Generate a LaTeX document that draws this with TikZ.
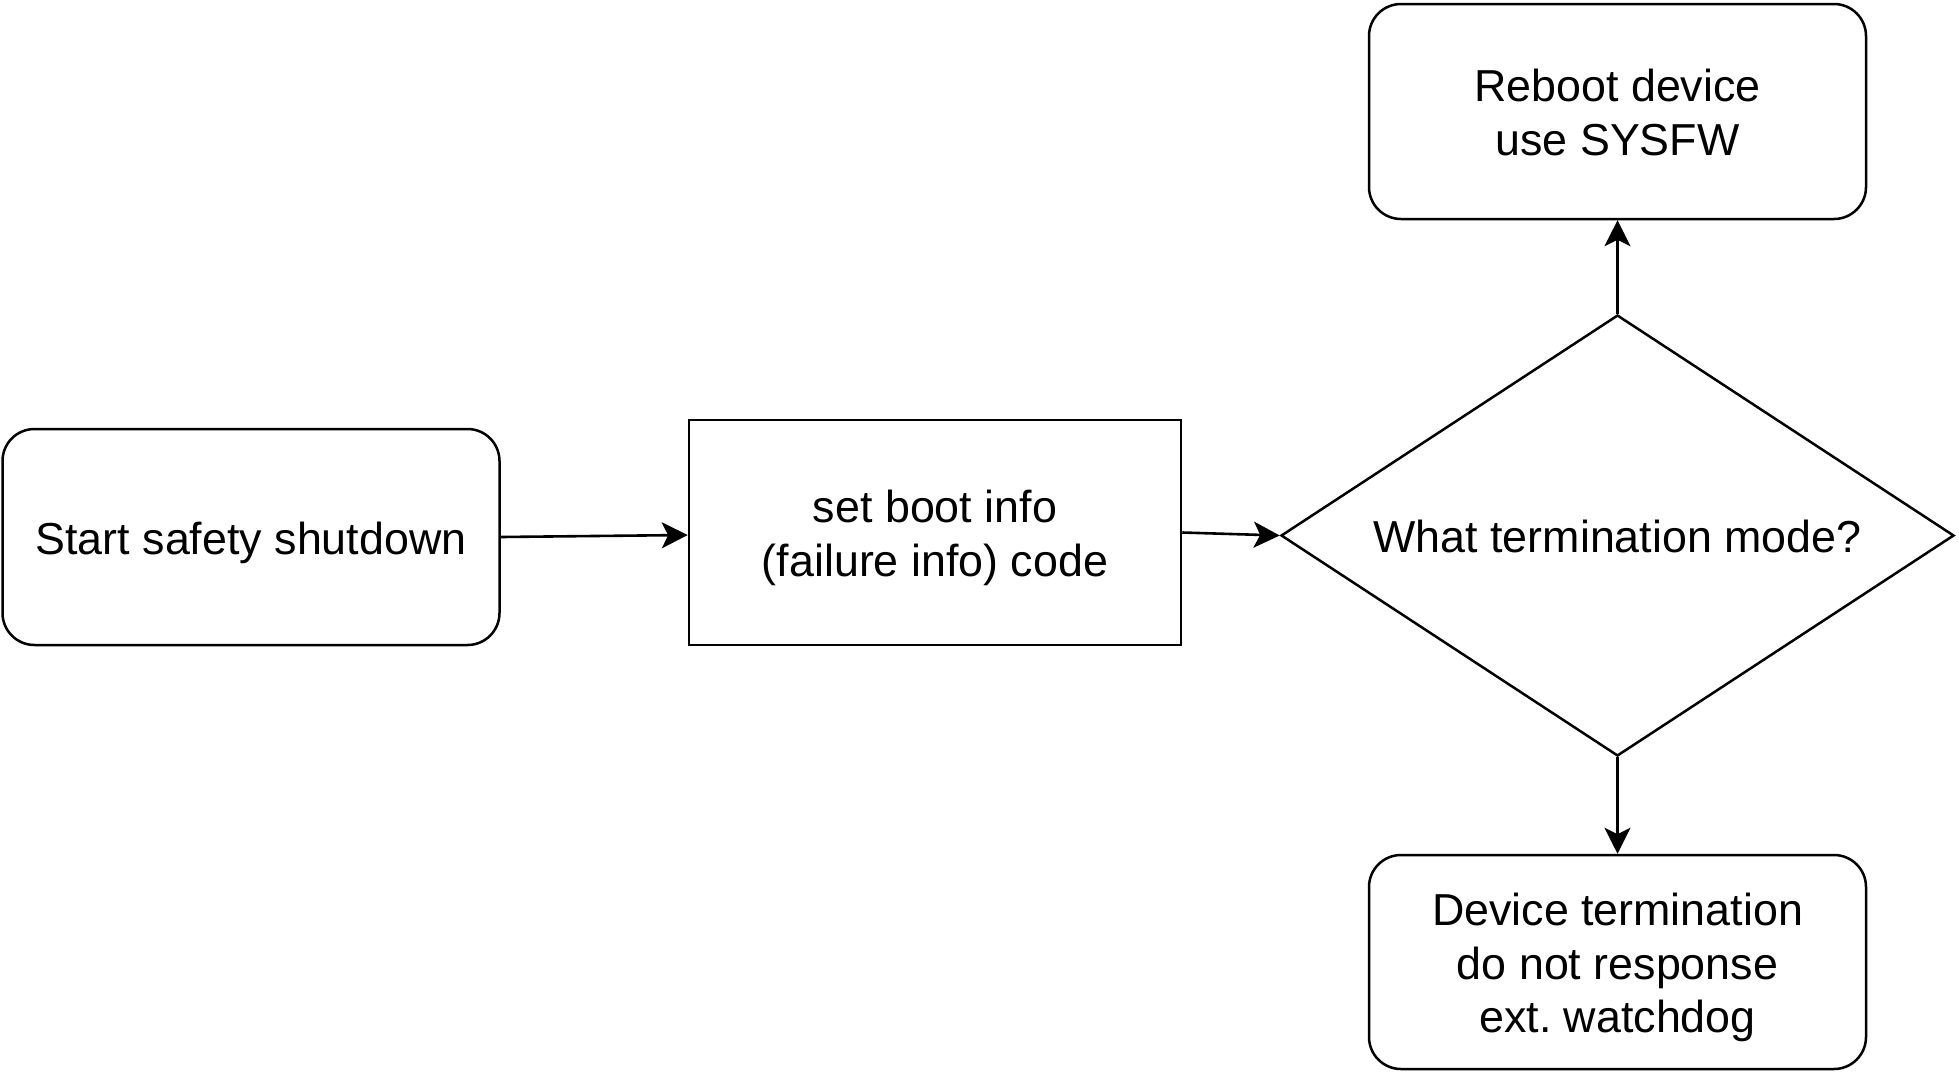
\documentclass[tikz,border=0pt]{standalone}
\usepackage{fontspec}
\setmainfont{Liberation Sans}
\usetikzlibrary{shapes.geometric,arrows.meta}
\newcommand\tp{\rule{0pt}{22pt}}
\newcommand\bt{\rule[-5pt]{0pt}{5pt}}
\begin{document}
\begin{tikzpicture}[x=0.5pt,y=-0.5pt,
  every node/.style={font=\fontsize{22.4pt}{26.9pt}\selectfont, align=center, line width=1.25pt},
  rbox/.style={draw, rounded corners=16pt, minimum width=248.5pt, inner sep=0pt},
  pbox/.style={draw, minimum width=246pt, minimum height=112.5pt, inner sep=0pt},
  dbox/.style={draw, diamond, aspect=1.53, minimum width=336.5pt, minimum height=220.5pt, inner sep=0pt},
  conn/.style={line width=1.3pt, -{Stealth[length=13pt,width=13pt,inset=3.2pt]}}]
\useasboundingbox (0,0) rectangle (1959,1071);
\node[rbox, minimum height=108pt] (start) at (251,537) {\tp Start safety shutdown\bt};
\node[pbox] (setb) at (935,532.5) {\tp set boot info\\(failure info) code\bt};
\node[dbox] (dia) at (1617.5,535.5) {\tp What termination mode?\bt};
\node[rbox, minimum height=107.5pt] (reboot) at (1617.5,111.5) {\tp Reboot device\\use SYSFW\bt};
\node[rbox, minimum height=107pt] (term) at (1617.5,962) {\tp Device termination\\do not response\\ext.\ watchdog\bt};
\draw[conn] (start.east) -- ([yshift=-1.25pt]setb.west);
\draw[conn] (setb.east) -- (dia.west);
\draw[conn] (dia.north) -- (reboot.south);
\draw[conn] (dia.south) -- (term.north);
\end{tikzpicture}
\end{document}
